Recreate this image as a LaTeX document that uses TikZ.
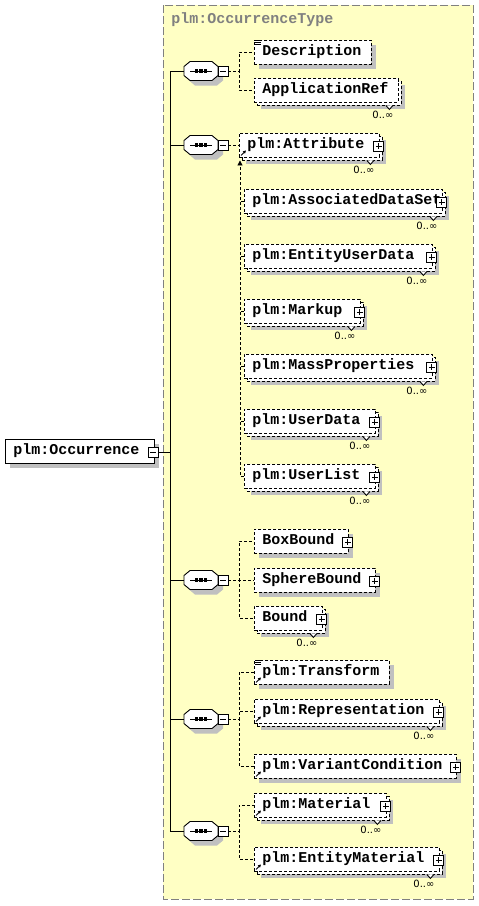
\documentclass[tikz,border=0pt]{standalone}
\usepackage{fontspec}
\usetikzlibrary{arrows.meta}
\newfontfamily\elemfont{Liberation Mono}[HyphenChar=None]
\newfontfamily\multfont{DejaVu Sans}
\definecolor{schemayellow}{RGB}{255,255,196}
\definecolor{shadowgray}{RGB}{192,192,192}
\definecolor{typegray}{RGB}{128,128,128}

\begin{document}
\begin{tikzpicture}[
    x=1pt, y=-1pt,
    line width=0.9pt,
    font=\elemfont\bfseries\fontsize{15}{18}\selectfont,
    % Styles
    typebox/.style={draw=typegray, fill=schemayellow, dash pattern=on 8pt off 3pt},
    typelabel/.style={text=typegray, anchor=base west, inner sep=0pt},
    shadowed/.style={
      preaction={fill=shadowgray, draw=none, transform canvas={shift={(#1pt,-#1pt)}}}
    },
    box/.style={
      draw=black,
      fill=white,
      anchor=west,
      align=left,
      minimum height=24pt,
      text height=10pt,
      text depth=3pt,
      inner xsep=8pt,
      inner ysep=0pt
    },
    elem/.style={box, shadowed=5},
    opt/.style={box, shadowed=5, dash pattern=on 3pt off 2pt},
    multi/.style={
      box, shadowed=7, dash pattern=on 3pt off 2pt,
      preaction={draw=black, dash pattern=on 3pt off 2pt, fill=white,
        transform canvas={shift={(3pt,-3pt)}}}
    },
    seq/.style={minimum width=34pt, minimum height=19pt, inner sep=0pt, outer sep=0pt},
    seqshape/.style={draw, fill=white, shadowed=5},
    minus/.style={
      draw, solid, fill=white, minimum size=10pt, inner sep=0pt,
      path picture={\draw ([xshift=2pt]path picture bounding box.west) -- ([xshift=-2pt]path picture bounding box.east);}
    },
    plus/.style={
      draw, solid, fill=white, minimum size=10pt, inner sep=0pt,
      path picture={
        \draw ([xshift=2pt]path picture bounding box.west) -- ([xshift=-2pt]path picture bounding box.east);
        \draw ([yshift=-2pt]path picture bounding box.north) -- ([yshift=2pt]path picture bounding box.south);}
    },
    link/.style={dash pattern=on 3pt off 2pt},
    subst/.style={link, -{Triangle[length=5pt,width=5pt]}},
    refarrow/.style={solid, line width=0.8pt, -{Triangle[length=3pt,width=3pt]}},
    notch/.style={solid, fill=white},
    mult/.style={font=\multfont\fontsize{10}{11}\selectfont, anchor=base east, inner sep=0pt}
  ]
    \useasboundingbox (0,0) rectangle (479,906);

    % Complex type container
    \draw [typebox] (163,5) rectangle (473,899);
    \node (tlabel) [typelabel] at (171,23.5) {plm:OccurrenceType};

    % Root element
    \node (root) [elem, text width=133pt] at (5,451) {plm:Occurrence};
    \node (rootm) [minus] at (153,452) {};
    \coordinate (trunk) at (170,452);

    % Sequence compositors
    \node (seq1) [seq] at (201,71) {};
    \node (seq2) [seq] at (201,145) {};
    \node (seq3) [seq] at (201,580) {};
    \node (seq4) [seq] at (201,719) {};
    \node (seq5) [seq] at (201,831) {};

    % Child elements
    \node (desc) [opt, text width=101pt] at (254,52) {Description};
    \node (appref) [multi, text width=128pt] at (254,90) {ApplicationRef};
    \node (attr) [multi, text width=124pt] at (239,145) {plm:Attribute};
    \node (ads) [multi, text width=182pt] at (244,201) {plm:AssociatedDataSet};
    \node (eud) [multi, text width=172pt] at (244,256) {plm:EntityUserData};
    \node (markup) [multi, text width=100pt] at (244,311) {plm:Markup};
    \node (massp) [multi, text width=172pt] at (244,366) {plm:MassProperties};
    \node (udata) [multi, text width=115pt] at (244,421) {plm:UserData};
    \node (ulist) [multi, text width=115pt] at (244,476) {plm:UserList};
    \node (boxb) [opt, text width=78pt] at (254,541) {BoxBound};
    \node (sphb) [opt, text width=105pt] at (254,580) {SphereBound};
    \node (bound) [multi, text width=52pt] at (254,618) {Bound};
    \node (trans) [opt, text width=119pt] at (254,672) {plm:Transform};
    \node (repr) [multi, text width=169pt] at (254,711) {plm:Representation};
    \node (varc) [opt, text width=186pt] at (254,766) {plm:VariantCondition};
    \node (mat) [multi, text width=116pt] at (254,805) {plm:Material};
    \node (emat) [multi, text width=169pt] at (254,859) {plm:EntityMaterial};

    % Trunk from the root to the compositors
    \draw (rootm) -- (trunk);
    \draw (trunk |- seq1.west) -- (trunk |- seq5.west);
    \foreach \s in {seq1,seq2,seq3,seq4,seq5} {
      \draw (trunk |- \s.west) -- (\s.west);
      \draw [seqshape] ([shift={(0,5)}]\s.north west) -- ([shift={(6,0)}]\s.north west)
        -- ([shift={(-6,0)}]\s.north east) -- ([shift={(0,5)}]\s.north east)
        -- ([shift={(0,-5)}]\s.south east) -- ([shift={(-6,0)}]\s.south east)
        -- ([shift={(6,0)}]\s.south west) -- ([shift={(0,-5)}]\s.south west) -- cycle;
      \draw ([xshift=-11pt]\s.center) -- ([xshift=11pt]\s.center);
      \foreach \d in {-4.5,0,4.5}
        \fill ([xshift=\d pt]\s.center) +(-1.7,-1.7) rectangle +(1.7,1.7);
      \node (\s-m) [minus] at ([xshift=5pt]\s.east) {};
    }

    % Compositors to children
    \draw [link] (seq1-m.east) -- ++(11,0) |- (desc.west);
    \draw [link] (seq1-m.east) -- ++(11,0) |- (appref.west);
    \draw [link] (seq2-m.east) -- (attr.west);
    \draw [link] (seq3-m.east) -- ++(11,0) |- (boxb.west);
    \draw [link] (seq3-m.east) -- ++(11,0) |- (sphb.west);
    \draw [link] (seq3-m.east) -- ++(11,0) |- (bound.west);
    \draw [link] (seq4-m.east) -- ++(11,0) |- (trans.west);
    \draw [link] (seq4-m.east) -- ++(11,0) |- (repr.west);
    \draw [link] (seq4-m.east) -- ++(11,0) |- (varc.west);
    \draw [link] (seq5-m.east) -- ++(11,0) |- (mat.west);
    \draw [link] (seq5-m.east) -- ++(11,0) |- (emat.west);

    % Substitution group of plm:Attribute
    \draw [subst] (ulist.west) -| ([shift={(1,3)}]attr.south west);
    \foreach \n in {ads,eud,markup,massp,udata}
      \draw [link] (\n.west) -- ++(-4,0);

    % Occurrence marks
    \foreach \n in {appref,attr,ads,eud,markup,massp,udata,ulist,bound,repr,mat,emat} {
      \draw [notch] ([shift={(-13,3)}]\n.south east) -- ++(3.5,4) -- ++(3.5,-4);
      \node (\n-mult) [mult] at ([shift={(-5,16)}]\n.south east) {0..∞};
    }

    % Expand buttons
    \foreach \n in {attr,ads,eud,markup,massp,udata,ulist,boxb,sphb,bound,repr,varc,mat,emat}
      \node (\n-p) [plus] at ([shift={(-1,1)}]\n.east) {};

    % Reference and simple content icons
    \foreach \n in {attr,trans,repr,varc,mat,emat}
      \draw [refarrow] ([shift={(2,-2)}]\n.south west) -- ++(5,-5);
    \foreach \n in {desc,trans}
      \foreach \k in {1,3,5}
        \draw [line width=0.6pt] ([shift={(1,\k)}]\n.north west) -- ++(6,0);

  \end{tikzpicture}
\end{document}
